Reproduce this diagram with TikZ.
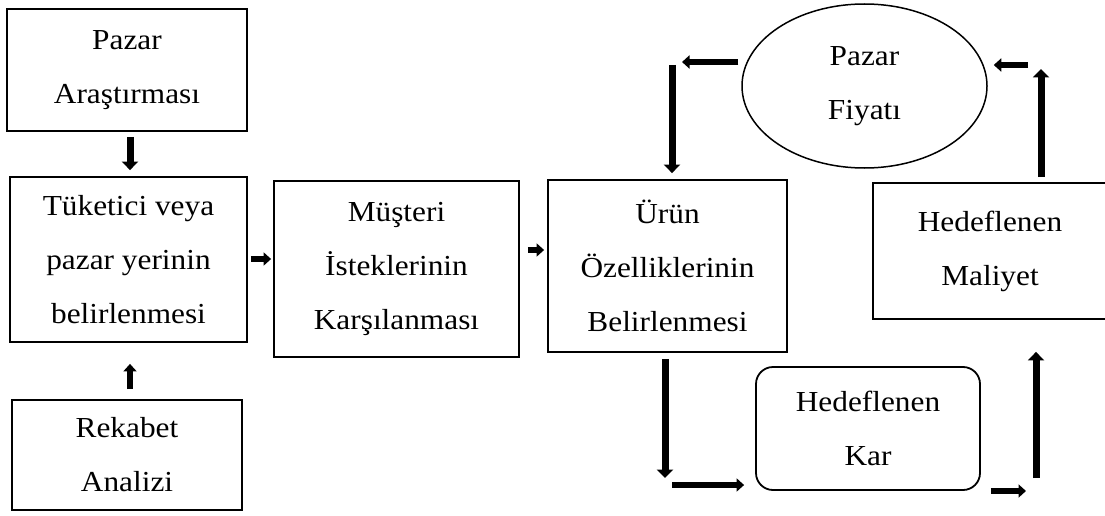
\documentclass[tikz,border=0pt]{standalone}
\usepackage{fontspec}
\setmainfont{Liberation Serif}[FakeStretch=1.08]
\usetikzlibrary{arrows.meta,shapes.geometric,calc}

\begin{document}
\begin{tikzpicture}[x=1pt,y=-1pt,
  txt/.style={font=\fontsize{29}{54}\selectfont, align=center, inner sep=0pt},
  box/.style={txt, draw, line width=1.8pt, rectangle},
  oval/.style={txt, draw, line width=1.5pt, ellipse},
  rbox/.style={box, rounded corners=17pt},
  bigarrow/.style={line width=7pt, -{Triangle[length=8.5pt,width=16pt]}},
  smallarrow/.style={line width=6pt, -{Triangle[length=7.5pt,width=13pt]}}
]
\useasboundingbox (0,0) rectangle (1105,516);

% left column
\node[box, minimum width=240pt, minimum height=122pt] (pa) at (127,70) {Pazar\\Araştırması};
\node[box, minimum width=237pt, minimum height=165pt] (tk) at (128.5,259.5) {Tüketici veya\\pazar yerinin\\belirlenmesi};
\node[box, minimum width=230pt, minimum height=110pt] (rk) at (127,455) {Rekabet\\Analizi};

% middle row
\node[box, minimum width=245pt, minimum height=176pt] (ms) at (396.5,269) {Müşteri\\İsteklerinin\\Karşılanması};
\node[box, minimum width=239pt, minimum height=172pt] (ur) at (667.5,266) {Ürün\\Özelliklerinin\\Belirlenmesi};

% price / cost / profit loop
\node[oval, minimum width=245pt, minimum height=164pt] (pf) at (864.5,86) {Pazar\\Fiyatı};
\node[box, minimum width=234pt, minimum height=136pt] (ml) at (990,251) {Hedeflenen\\Maliyet};
\node[rbox, minimum width=224pt, minimum height=123pt] (kr) at (868,428.5) {Hedeflenen\\Kar};

% free ends of the loop arrows
\coordinate (pfL) at (682,62);
\coordinate (urTop) at (672,65);
\coordinate (pfR) at (1028,65);
\coordinate (mlU) at (1041,69);
\coordinate (urD) at (665,478);
\coordinate (krL) at (672,485);
\coordinate (krR) at (1026,491);
\coordinate (mlB) at (1036,478);
\coordinate (tkR) at (272,259);
\coordinate (msR) at (545,250);

% left column arrows
\draw[bigarrow, shorten <=5pt, shorten >=6pt] ([xshift=3pt]pa.south) -- ([xshift=1.5pt]tk.north);
\draw[smallarrow, shorten <=10pt, shorten >=21pt] ([xshift=3pt]rk.north) -- ([xshift=1.5pt]tk.south);

% middle row arrows
\draw[smallarrow, shorten <=3pt, shorten >=2pt] (tk.east |- tkR) -- (ms.west |- tkR);
\draw[smallarrow, shorten <=8pt, shorten >=3pt] (ms.east |- msR) -- (ur.west |- msR);

% from the price to the product features
\draw[smallarrow, shorten <=3pt] (pf.west |- pfL) -- (pfL);
\draw[bigarrow, shorten >=6pt] (urTop) -- (ur.north -| urTop);

% from the product features to the profit
\draw[bigarrow, shorten <=6pt] (ur.south -| urD) -- (urD);
\draw[smallarrow, shorten >=11pt] (krL) -- (kr.west |- krL);

% from the profit to the cost
\draw[smallarrow, shorten <=10pt] (kr.east |- krR) -- (krR);
\draw[bigarrow, shorten >=32pt] (mlB) -- (mlB |- ml.south);

% from the cost to the price
\draw[bigarrow, shorten <=5pt] (ml.north -| mlU) -- (mlU);
\draw[smallarrow, shorten >=6pt] (pfR) -- (pf.east |- pfR);
\end{tikzpicture}
\end{document}
